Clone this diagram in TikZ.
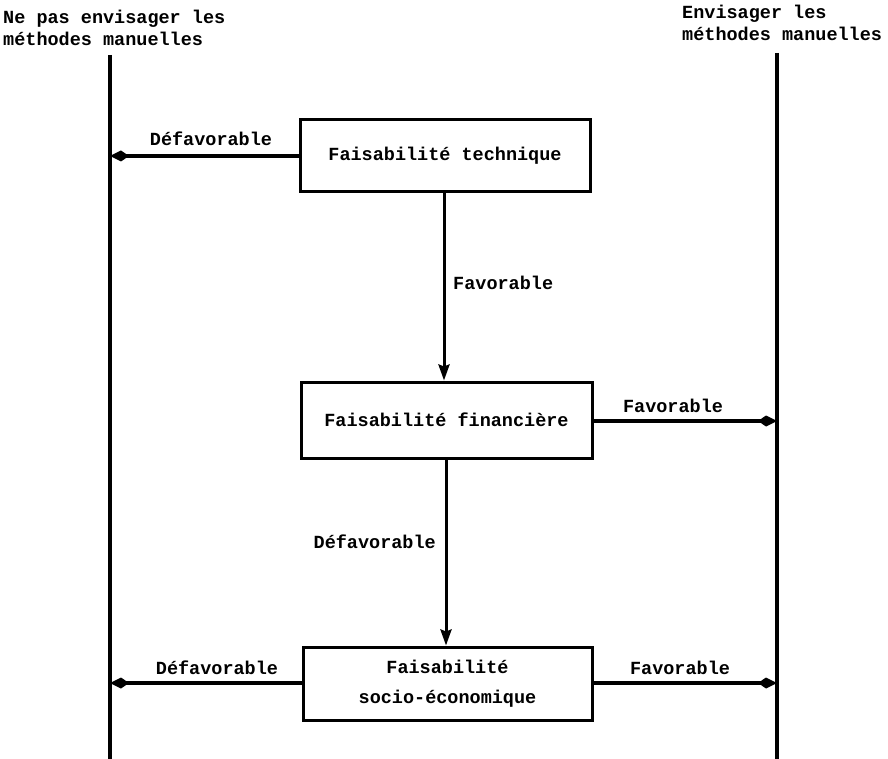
\documentclass[tikz,border=0pt]{standalone}
\usepackage{fontspec}
\setmonofont{Liberation Mono}
\usetikzlibrary{arrows.meta}
\begin{document}
\begin{tikzpicture}[x=1pt,y=-1pt,
  txt/.style={font=\fontsize{18.5}{22}\selectfont\ttfamily\bfseries, inner sep=0pt},
  box/.style={draw, line width=3pt, rectangle, align=center, inner sep=0pt,
              font=\fontsize{18.5}{30}\selectfont\ttfamily\bfseries},
  rail/.style={line width=3.2pt},
  flow/.style={line width=4pt, -{Kite[length=19pt,width=11pt,inset=8pt]}},
  vflow/.style={line width=3pt, -{Stealth[length=16pt,width=11pt,inset=2pt]}}]
\useasboundingbox (0,0) rectangle (888,759);

% column headings
\node[txt, anchor=base west] (hl1) at (3,24) {Ne pas envisager les};
\node[txt, anchor=base west] (hl2) at (3,46) {méthodes manuelles};
\node[txt, anchor=base west] (hr1) at (682,19) {Envisager les};
\node[txt, anchor=base west] (hr2) at (682,41) {méthodes manuelles};

% decision rails
\coordinate (Ltop) at (110,55);
\coordinate (Lbot) at (110,759);
\coordinate (Rtop) at (777,53);
\coordinate (Rbot) at (777,759);
\draw[rail] (Ltop) -- (Lbot);
\draw[rail] (Rtop) -- (Rbot);

% feasibility boxes
\node[box, minimum width=290pt, minimum height=72pt] (tech) at (445,156)
  {Faisabilité technique};
\node[box, minimum width=291pt, minimum height=76pt] (fin) at (446.5,420)
  {Faisabilité financière};
\node[box, minimum width=289pt, minimum height=73pt] (socio) at (447.5,683.5)
  {Faisabilité\\socio-économique};

% end points on the rails
\coordinate (Ltech) at (110,156);
\coordinate (Rfin) at (777,421);
\coordinate (Lsocio) at (110,683);
\coordinate (Rsocio) at (777,683);

% connectors
\draw[flow] (tech.west |- Ltech) -- (Ltech);
\draw[vflow] (tech.south -| 444,0) -- (fin.north -| 444,0);
\draw[flow] (fin.east |- Rfin) -- (Rfin);
\draw[vflow] (fin.south -| 446,0) -- (socio.north -| 446,0);
\draw[flow] (socio.west |- Lsocio) -- (Lsocio);
\draw[flow] (socio.east |- Rsocio) -- (Rsocio);

% labels
\node[txt, anchor=base] (d1) at (211,146) {Défavorable};
\node[txt, anchor=base west] (f1) at (453,289) {Favorable};
\node[txt, anchor=base] (f2) at (673,412) {Favorable};
\node[txt, anchor=base east] (d2) at (436,548) {Défavorable};
\node[txt, anchor=base] (d3) at (217,674) {Défavorable};
\node[txt, anchor=base] (f3) at (680,674) {Favorable};
\end{tikzpicture}
\end{document}
